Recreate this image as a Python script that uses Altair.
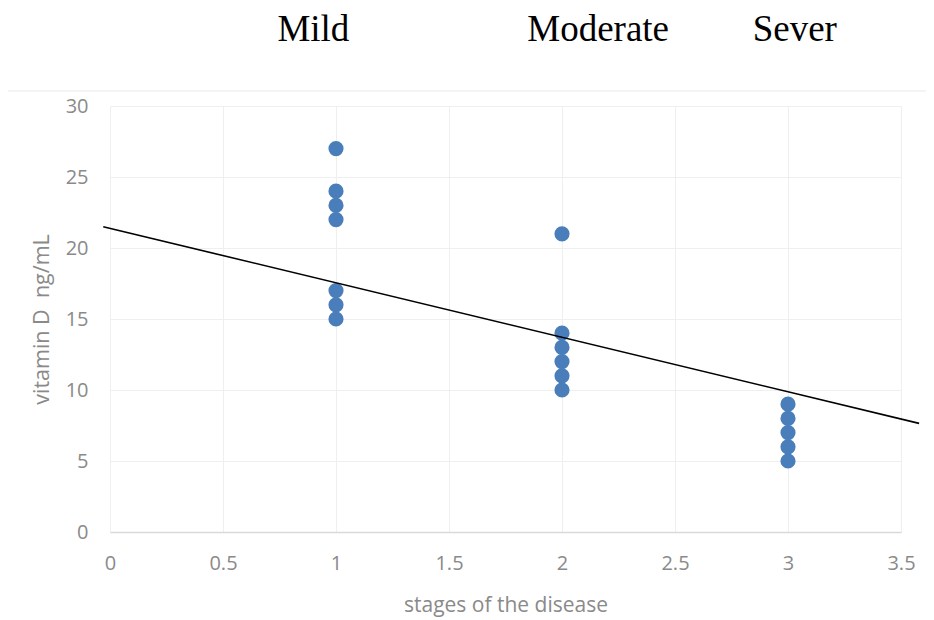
import altair as alt
import pandas as pd

# Data
stage_1_values = [27, 24, 23, 22, 17, 16, 15]
stage_2_values = [21, 14, 13, 12, 11, 10]
stage_3_values = [9, 8, 7, 6, 5]
stages = [1, 2, 3]

trend_x = [-0.03, 3.58]
trend_y = [21.5, 7.65]

group_labels = ["Mild", "Moderate", "Sever"]
group_label_x = [0.9, 2.16, 3.03]

x_ticks = [0, 0.5, 1, 1.5, 2, 2.5, 3, 3.5]
y_ticks = [0, 5, 10, 15, 20, 25, 30]

rows = []
for s, vals in zip(stages, [stage_1_values, stage_2_values, stage_3_values]):
    for v in vals:
        rows.append({"stage": s, "vitd": v})
points_df = pd.DataFrame(rows)
trend_df = pd.DataFrame({"stage": trend_x, "vitd": trend_y})
labels_df = pd.DataFrame({"stage": group_label_x, "label": group_labels})

FONT = "Open Sans"
GRAY = "#8a8a8a"

x_scale = alt.Scale(domain=[0, 3.5], nice=False, zero=False)
y_scale = alt.Scale(domain=[0, 30], nice=False)

x_axis = alt.Axis(
    title="stages of the disease",
    values=x_ticks, format="~g", labelFlush=False,
    grid=True, gridColor="#efefef", gridWidth=1,
    domain=True, domainColor="#d9d9d9", domainWidth=1.5,
    ticks=False, labelPadding=21, labelFontSize=20, labelColor=GRAY,
    labelFont=FONT, titleFont=FONT, titleFontSize=21, titleColor=GRAY,
    titleFontWeight="normal", titlePadding=21,
)
y_axis = alt.Axis(
    title="vitamin D\u00a0 ng/mL",
    values=y_ticks, format="~g",
    grid=True, gridColor="#efefef", gridWidth=1,
    domain=False, ticks=False, labelPadding=22, labelFontSize=20,
    labelColor=GRAY, labelFont=FONT, titleFont=FONT, titleFontSize=21.5,
    titleColor=GRAY, titleFontWeight="normal", titlePadding=12,
)

pts = alt.Chart(points_df).mark_circle(
    size=230, color="#4A7EBB", opacity=1
).encode(
    x=alt.X("stage:Q", scale=x_scale, axis=x_axis),
    y=alt.Y("vitd:Q", scale=y_scale, axis=y_axis),
)

trend = alt.Chart(trend_df).mark_line(
    color="#000000", strokeWidth=1.6, clip=False
).encode(
    x=alt.X("stage:Q", scale=x_scale),
    y=alt.Y("vitd:Q", scale=y_scale),
)

labels = alt.Chart(labels_df).mark_text(
    font="Liberation Serif", fontSize=37, color="#000000",
    align="center", baseline="alphabetic",
).encode(
    x=alt.X("stage:Q", scale=x_scale),
    y=alt.value(-65),
    text="label:N",
)

border = alt.Chart(pd.DataFrame({"a": [0]})).mark_rule(
    color="#f0f0f0", strokeWidth=1.5
).encode(
    x=alt.value(-103), x2=alt.value(824), y=alt.value(-15)
)

chart = alt.layer(border, pts, trend, labels).properties(
    width=791, height=426,
    padding={"left": 102, "top": 98, "right": 25, "bottom": 86},
    autosize=alt.AutoSizeParams(type="none"),
).configure_view(stroke=None)

chart.save("out.html", embed_options={"renderer": "svg", "actions": False})
